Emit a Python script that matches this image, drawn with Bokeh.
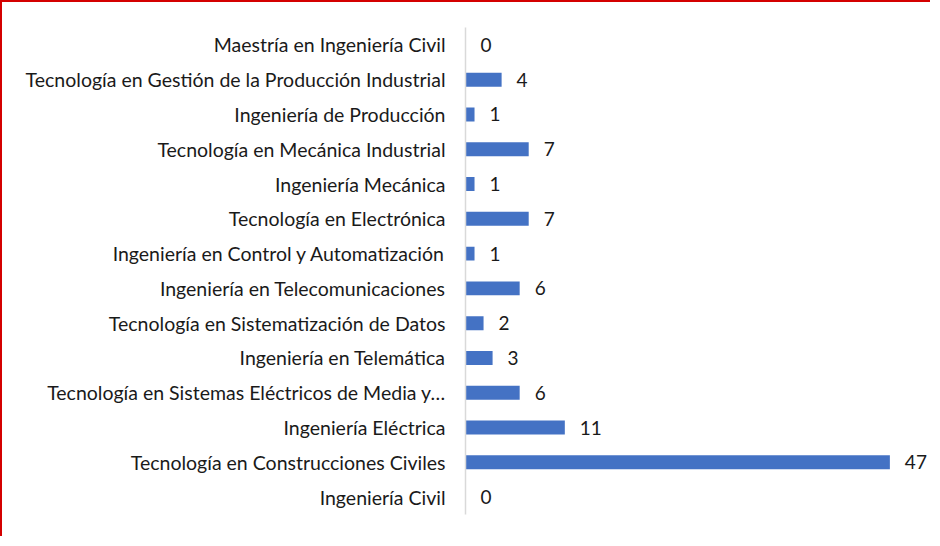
from bokeh.plotting import figure
from bokeh.models import ColumnDataSource, FactorRange, Range1d
from bokeh.core.properties import value
from bokeh.embed import file_html
from bokeh.resources import INLINE

categories = [
    "Ingeniería Civil",
    "Tecnología en Construcciones Civiles",
    "Ingeniería Eléctrica",
    "Tecnología en Sistemas Eléctricos de Media y…",
    "Ingeniería en Telemática",
    "Tecnología en Sistematización de Datos",
    "Ingeniería en Telecomunicaciones",
    "Ingeniería en Control y Automatización",
    "Tecnología en Electrónica",
    "Ingeniería Mecánica",
    "Tecnología en Mecánica Industrial",
    "Ingeniería de Producción",
    "Tecnología en Gestión de la Producción Industrial",
    "Maestría en Ingeniería Civil",
]
values = [0, 47, 11, 6, 3, 2, 6, 1, 7, 1, 7, 1, 4, 0]

FONT = "Lato"

src = ColumnDataSource(dict(cat=categories, val=values, lab=[str(v) for v in values]))

p = figure(
    width=930, height=536,
    y_range=FactorRange(factors=categories, range_padding=0),
    x_range=Range1d(0, 51.5),
    output_backend="svg", toolbar_location=None,
    min_border_left=463, min_border_right=2,
    min_border_top=25, min_border_bottom=24,
)
p.hbar(y="cat", right="val", left=0, height=0.4, source=src,
       fill_color="#4472C4", line_color=None)
p.text(x="val", y="cat", text="lab", source=src, x_offset=15,
       text_baseline="middle", text_align="left",
       text_font=value(FONT), text_font_size="19px", text_color="#1a1a1a")

p.xaxis.visible = False
p.xgrid.visible = False
p.ygrid.visible = False
p.outline_line_color = None
yax = p.yaxis[0]
yax.axis_line_color = "#d9d9d9"
yax.axis_line_width = 1.5
yax.major_tick_line_color = None
yax.minor_tick_line_color = None
yax.major_label_standoff = 14
yax.major_label_text_font = FONT
yax.major_label_text_font_size = "19.5px"
yax.major_label_text_color = "#1a1a1a"
p.styles = {"border-top": "2px solid #d40000", "border-left": "2px solid #d40000"}

open("out.html", "w").write(file_html(p, INLINE))
